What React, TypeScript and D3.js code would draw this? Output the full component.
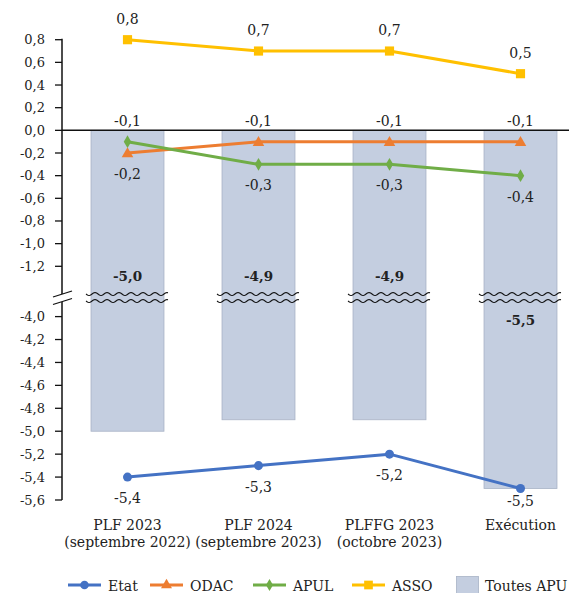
import React from "react";
import * as d3 from "d3";

// ---------- DATA ----------
const categories = ["PLF 2023", "PLF 2024", "PLFFG 2023", "Exécution"];
const categorySubtitles = ["(septembre 2022)", "(septembre 2023)", "(octobre 2023)", ""];
const etat = [-5.4, -5.3, -5.2, -5.5];
const odac = [-0.2, -0.1, -0.1, -0.1];
const apul = [-0.1, -0.3, -0.3, -0.4];
const asso = [0.8, 0.7, 0.7, 0.5];
const toutesApu = [-5.0, -4.9, -4.9, -5.5];
const upperTicks = [0.8, 0.6, 0.4, 0.2, 0.0, -0.2, -0.4, -0.6, -0.8, -1.0, -1.2];
const lowerTicks = [-4.0, -4.2, -4.4, -4.6, -4.8, -5.0, -5.2, -5.4, -5.6];
const legendNames = ["Etat", "ODAC", "APUL", "ASSO", "Toutes APU"];

// ---------- LAYOUT / STYLE ----------
const W = 569;
const H = 593;
const axisX = 62;
const breakTop = 294;
const breakBottom = 301;
const FONT = "'DejaVu Serif', serif";
const TXT = "#222";
const BAR_FILL = "#c4cee0";
const BAR_STROKE = "#a9b3c6";

const locale = d3.formatLocale({
  decimal: ",",
  thousands: " ",
  grouping: [3],
  currency: ["", ""],
  minus: "-",
});
const fmt = locale.format(".1f");

const yUp = d3.scaleLinear().domain([0.8, -1.2]).range([39.7, 266.3]);
const yLow = d3.scaleLinear().domain([-4.0, -5.6]).range([316.6, 500]);
const x = d3
  .scaleBand<string>()
  .domain(categories)
  .range([axisX, axisX + 524])
  .paddingInner(0.443)
  .paddingOuter(0.2215);
const cx = (i: number) => (x(categories[i]) as number) + x.bandwidth() / 2;

type Series = {
  name: string;
  values: number[];
  color: string;
  symbol: d3.SymbolType;
  size: number;
  scale: (v: number) => number;
  labelOffset: number[]; // negative above, positive below
};

const series: Series[] = [
  { name: "Etat", values: etat, color: "#4472C4", symbol: d3.symbolCircle, size: 64, scale: yLow, labelOffset: [21, 21, 21, 12] },
  { name: "ODAC", values: odac, color: "#ED7D31", symbol: d3.symbolTriangle, size: 58, scale: yUp, labelOffset: [21, -21, -21, -21] },
  { name: "APUL", values: apul, color: "#70AD47", symbol: d3.symbolDiamond, size: 48, scale: yUp, labelOffset: [-21, 21, 21, 21] },
  { name: "ASSO", values: asso, color: "#FFC000", symbol: d3.symbolSquare, size: 84, scale: yUp, labelOffset: [-21, -21, -21, -21] },
];

const barLabelBelowBreak = [false, false, false, true];

function wavePath(x0: number, x1: number, y: number): string {
  const pts: [number, number][] = [];
  const period = 12;
  const amp = 1.5;
  for (let xx = x0; xx <= x1 + 0.01; xx += 1) {
    pts.push([xx, y + amp * Math.sin(((xx - x0) / period) * 2 * Math.PI)]);
  }
  return d3.line()(pts) as string;
}

export default function App() {
  const legendX = [68, 150, 253, 352];
  const legendY = 585;
  const legendTextY = 591;
  return (
    <svg
      width={W}
      height={H}
      style={{ position: "absolute", left: 0, top: 0, background: "#fff" }}
      fontFamily={FONT}
    >
      {/* Bars */}
      {toutesApu.map((v, i) => (
        <rect
          key={"bar" + i}
          x={x(categories[i])}
          y={yUp(0)}
          width={x.bandwidth()}
          height={yLow(v) - yUp(0)}
          fill={BAR_FILL}
          stroke={BAR_STROKE}
          strokeWidth={0.8}
        />
      ))}

      {/* Wavy break lines across bars */}
      {toutesApu.map((_, i) => {
        const x0 = (x(categories[i]) as number) - 5;
        const x1 = (x(categories[i]) as number) + x.bandwidth() + 5;
        return (
          <g key={"wave" + i} fill="none" stroke="#111" strokeWidth={1.1}>
            <path d={wavePath(x0, x1, breakTop)} />
            <path d={wavePath(x0, x1, breakBottom)} />
          </g>
        );
      })}

      {/* Y axis */}
      <line x1={axisX} x2={axisX} y1={yUp(0.8) - 1} y2={breakTop} stroke="#111" strokeWidth={1.5} />
      <line x1={axisX} x2={axisX} y1={breakBottom + 1} y2={yLow(-5.6)} stroke="#111" strokeWidth={1.5} />
      {/* axis break marks */}
      <line x1={53} x2={72} y1={breakTop + 3} y2={breakTop - 3} stroke="#111" strokeWidth={1.3} />
      <line x1={53} x2={72} y1={breakBottom + 3.5} y2={breakBottom - 2.5} stroke="#111" strokeWidth={1.3} />

      {upperTicks.map((t) => (
        <g key={"ut" + t}>
          <line x1={axisX - 7} x2={axisX} y1={yUp(t)} y2={yUp(t)} stroke="#111" strokeWidth={1.3} />
          <text x={axisX - 17} y={yUp(t) + 4.5} textAnchor="end" fontSize={13} fill={TXT}>
            {fmt(t)}
          </text>
        </g>
      ))}
      {lowerTicks.map((t) => (
        <g key={"lt" + t}>
          <line x1={axisX - 7} x2={axisX} y1={yLow(t)} y2={yLow(t)} stroke="#111" strokeWidth={1.3} />
          <text x={axisX - 17} y={yLow(t) + 4.5} textAnchor="end" fontSize={13} fill={TXT}>
            {fmt(t)}
          </text>
        </g>
      ))}

      {/* Zero line */}
      <line x1={axisX} x2={W} y1={yUp(0)} y2={yUp(0)} stroke="#111" strokeWidth={1.5} />

      {/* Bar labels */}
      {toutesApu.map((v, i) => (
        <text
          key={"bl" + i}
          x={cx(i)}
          y={barLabelBelowBreak[i] ? breakBottom + 24 : breakTop - 13}
          textAnchor="middle"
          fontSize={13.5}
          fontWeight="bold"
          fill={TXT}
        >
          {fmt(v)}
        </text>
      ))}

      {/* Lines */}
      {series.map((s) => {
        const line = d3
          .line<number>()
          .x((_, i) => cx(i))
          .y((v) => s.scale(v));
        const sym = d3.symbol().type(s.symbol).size(s.size)();
        return (
          <g key={s.name}>
            <path d={line(s.values) as string} fill="none" stroke={s.color} strokeWidth={3} strokeLinejoin="round" />
            {s.values.map((v, i) => (
              <path
                key={i}
                d={sym as string}
                transform={`translate(${cx(i)},${s.scale(v) + (s.symbol === d3.symbolTriangle ? 1 : 0)})`}
                fill={s.color}
              />
            ))}
          </g>
        );
      })}

      {/* Line labels */}
      {series.map((s) =>
        s.values.map((v, i) => (
          <text
            key={s.name + "l" + i}
            x={cx(i)}
            y={s.scale(v) + s.labelOffset[i] + 5}
            textAnchor="middle"
            fontSize={14}
            fill={TXT}
          >
            {fmt(v)}
          </text>
        ))
      )}

      {/* Category labels */}
      {categories.map((c, i) => (
        <g key={"cat" + i}>
          <text x={cx(i)} y={530} textAnchor="middle" fontSize={14} fill={TXT}>
            {c}
          </text>
          {categorySubtitles[i] && (
            <text x={cx(i)} y={547} textAnchor="middle" fontSize={14} fill={TXT}>
              {categorySubtitles[i]}
            </text>
          )}
        </g>
      ))}

      {/* Legend */}
      {series.map((s, i) => {
        const lx = legendX[i];
        const sym = d3.symbol().type(s.symbol).size(s.size * 0.9)();
        return (
          <g key={"lg" + s.name}>
            <line x1={lx} x2={lx + 33} y1={legendY} y2={legendY} stroke={s.color} strokeWidth={3} />
            <path d={sym as string} transform={`translate(${lx + 16.5},${legendY})`} fill={s.color} />
            <text x={lx + 40} y={legendTextY} fontSize={14} fill={TXT}>
              {legendNames[i]}
            </text>
          </g>
        );
      })}
      <rect x={456.5} y={576.5} width={22} height={20} fill={BAR_FILL} stroke={BAR_STROKE} strokeWidth={0.8} />
      <text x={485} y={legendTextY} fontSize={14} fill={TXT}>
        {legendNames[4]}
      </text>
    </svg>
  );
}
